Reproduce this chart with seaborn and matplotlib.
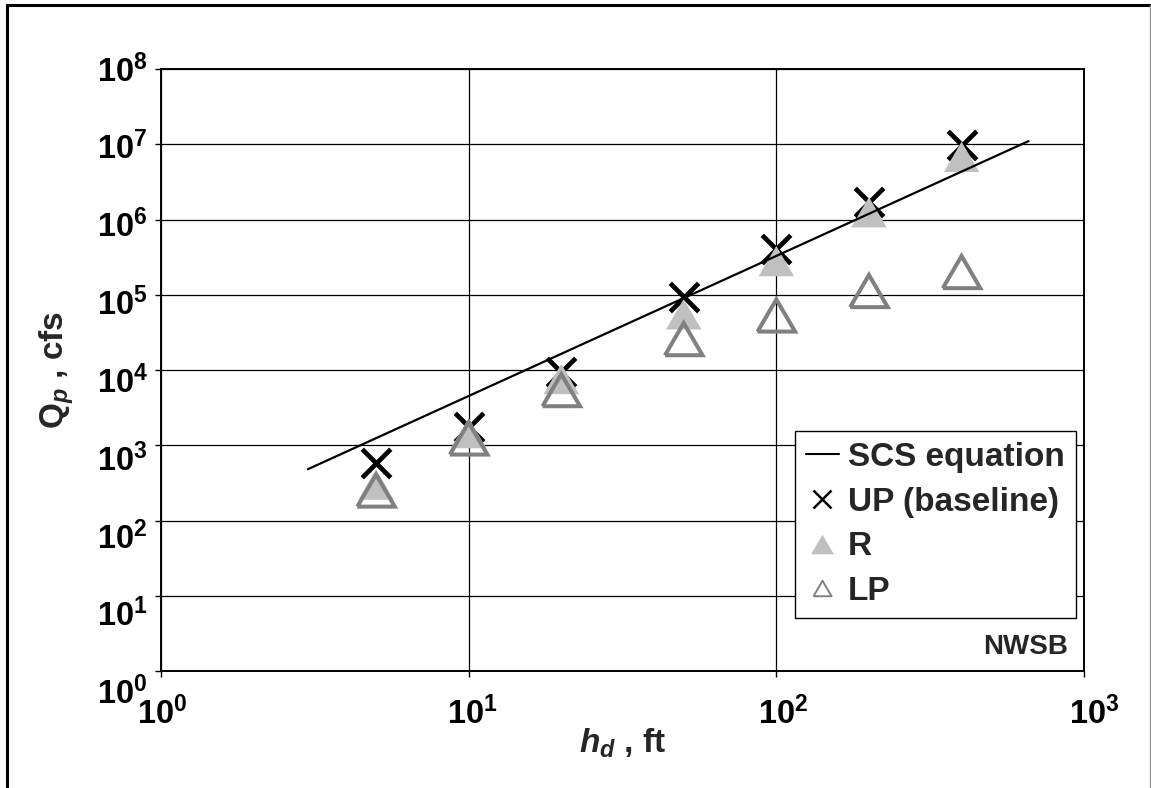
import matplotlib
matplotlib.use("Agg")
import matplotlib.pyplot as plt
import seaborn as sns
from matplotlib.lines import Line2D
from matplotlib.ticker import FixedLocator, FixedFormatter, NullLocator
from matplotlib.transforms import ScaledTranslation

# Dam height (ft) and peak discharge (cfs) for each breach scenario
hd_ft = [5, 10, 20, 50, 100, 200, 400]
qp_up = [580, 1750, 9400, 93000, 410000, 1710000, 9700000]
qp_r = [300, 1450, 7600, 55000, 280000, 1250000, 6800000]
qp_lp = [250, 1230, 5400, 25700, 53000, 112000, 200000]

# SCS regression line end points
scs_hd = [3, 660]
scs_qp = [480, 11000000]

x_decades = [0, 1, 2, 3]
y_decades = [0, 1, 2, 3, 4, 5, 6, 7, 8]
series_labels = ["SCS equation", "UP (baseline)", "R", "LP"]
site_label = "NWSB"

sns.set_style("ticks")
plt.rcParams.update({
    "font.family": ["Liberation Sans", "DejaVu Sans"],
    "font.weight": "bold",
    "mathtext.fontset": "custom",
    "mathtext.rm": "Liberation Sans:bold",
    "mathtext.it": "Liberation Sans:italic:bold",
    "mathtext.bf": "Liberation Sans:bold",
    "axes.edgecolor": "black",
    "xtick.color": "black",
    "ytick.color": "black",
})

W, H = 1151, 788
fig = plt.figure(figsize=(W / 100, H / 100), dpi=100)
ax = fig.add_axes([161 / W, 1 - 671 / H, (1084 - 161) / W, (671 - 69) / H])
ax.set(xscale="log", yscale="log")

# Triangle marker a little flatter than tall
tri = [(-1.0, -0.857), (1.0, -0.857), (0.0, 0.857), (-1.0, -0.857)]

sns.scatterplot(x=hd_ft, y=qp_up, marker="x", s=420, color="black",
                linewidth=3.4, ax=ax, zorder=3, legend=False)
sns.scatterplot(x=hd_ft, y=qp_r, marker=tri, s=650, color="#c0c0c0",
                edgecolor="none", linewidth=0, ax=ax, zorder=4, legend=False)
sns.scatterplot(x=hd_ft, y=qp_lp, marker=tri, s=730, facecolor="none",
                edgecolor="#808080", linewidth=2.9, joinstyle="miter",
                ax=ax, zorder=5, legend=False)
sns.lineplot(x=scs_hd, y=scs_qp, color="black", linewidth=1.6, ax=ax,
             zorder=6, legend=False)

ax.set_xlim(1, 1000)
ax.set_ylim(1, 1e8)
ax.xaxis.set_major_locator(FixedLocator([10.0 ** i for i in x_decades]))
ax.xaxis.set_major_formatter(FixedFormatter([f"$10^{{{i}}}$" for i in x_decades]))
ax.yaxis.set_major_locator(FixedLocator([10.0 ** i for i in y_decades]))
ax.yaxis.set_major_formatter(FixedFormatter([f"$10^{{{i}}}$" for i in y_decades]))
ax.xaxis.set_minor_locator(NullLocator())
ax.yaxis.set_minor_locator(NullLocator())

ax.grid(True, which="major", color="black", linewidth=0.9)
for sp in ax.spines.values():
    sp.set_visible(True)
    sp.set_color("black")
    sp.set_linewidth(1.4)
ax.tick_params(axis="both", which="major", direction="out", length=4.5,
               width=1.0, labelsize=23.5)
ax.tick_params(axis="x", pad=14)
ax.tick_params(axis="y", pad=5)

ax.set_xlabel("$h_{d}$ , ft", fontsize=24, fontweight="bold")
ax.set_ylabel("$\\mathrm{Q}_{p}$ , cfs", fontsize=24, fontweight="bold")
ax.xaxis.set_label_coords(0.5, -0.093)
ax.yaxis.set_label_coords(-0.092, 0.5)

handles = [
    Line2D([], [], color="black", linewidth=1.5),
    Line2D([], [], linestyle="none", marker="x", markersize=13.5,
           markeredgewidth=1.8, color="black"),
    Line2D([], [], linestyle="none", marker=tri, markersize=16.5,
           markerfacecolor="#c0c0c0", markeredgecolor="none"),
    Line2D([], [], linestyle="none", marker=tri, markersize=13,
           markerfacecolor="none", markeredgecolor="#808080",
           markeredgewidth=1.4),
]
leg = ax.legend(handles, series_labels, loc="upper right",
                bbox_to_anchor=(0.9913, 0.3987), borderaxespad=0,
                fontsize=24, frameon=True, fancybox=False, framealpha=1,
                edgecolor="black", handlelength=1.0, handletextpad=0.27,
                labelspacing=0.41, borderpad=0.33)
leg.get_frame().set_linewidth(1.0)
leg.set_zorder(10)

ax.text(0.9827, 0.040, site_label, transform=ax.transAxes, ha="right",
        va="center", fontsize=20, fontweight="bold")

# Outer border of the chart area
fig.add_artist(Line2D([7 / W, 7 / W], [0, 1 - 4.5 / H], transform=fig.transFigure,
                      color="black", linewidth=2.2))
fig.add_artist(Line2D([7 / W, 1150 / W], [1 - 4.5 / H, 1 - 4.5 / H],
                      transform=fig.transFigure, color="black", linewidth=2.2))
fig.add_artist(Line2D([1150 / W, 1150 / W], [0, 1 - 4.5 / H],
                      transform=fig.transFigure, color="#999999", linewidth=1.0))

# Nudge the decade labels into their drawn positions
fig.canvas.draw()
for i, lab in zip(y_decades, ax.get_yticklabels()):
    dy = (-1 + (8 - i) * 2.56) / 100
    lab.set_transform(lab.get_transform() + ScaledTranslation(0, -dy, fig.dpi_scale_trans))
for i, lab in zip(x_decades, ax.get_xticklabels()):
    dx = (1.0 + 3 * i) / 100
    lab.set_transform(lab.get_transform() + ScaledTranslation(dx, 0, fig.dpi_scale_trans))

fig.savefig("out.png", dpi=100, facecolor="white")
